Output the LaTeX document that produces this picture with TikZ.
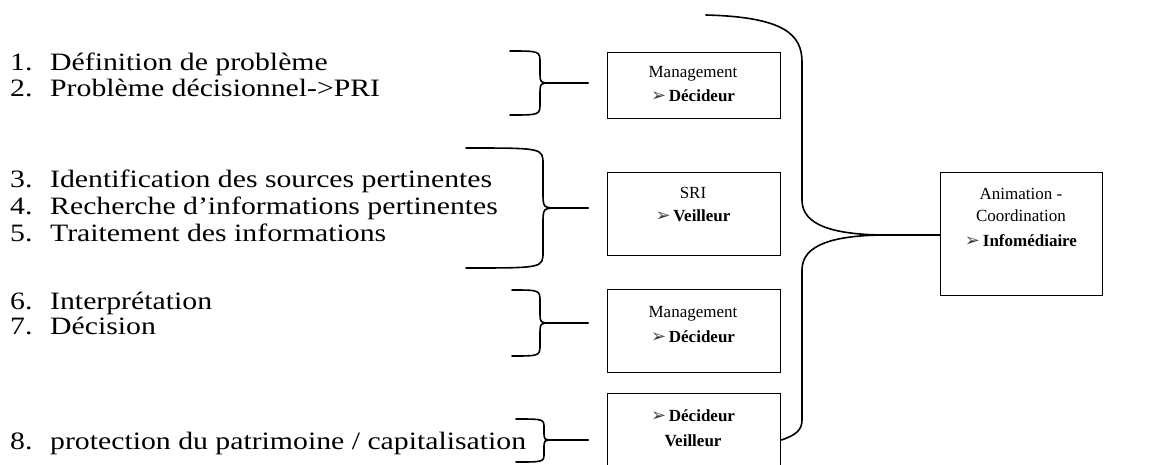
\documentclass[tikz,border=0pt]{standalone}
\usepackage{graphicx}
\usepackage{fontspec}
\setmainfont{Liberation Serif}
\newfontfamily\dejavu{DejaVu Sans}
\newcommand{\arr}{{\dejavu\fontsize{18}{18}\selectfont\color{black!75}➢}\,}
\newcommand{\hs}[1]{\scalebox{1.19}[1]{#1}}
\newcommand{\rbr}[7]{%
  \draw[brc] (#1,#4) .. controls (#2,#4) .. (#2,#4+#7) -- (#2,#5-#7)
    .. controls (#2,#5) .. (#2+#7,#5) -- (#3,#5);
  \draw[brc] (#3,#5) -- (#2+#7,#5) .. controls (#2,#5) .. (#2,#5+#7)
    -- (#2,#6-#7) .. controls (#2,#6) .. (#1,#6);}
\begin{document}
\begin{tikzpicture}[x=1pt,y=-1pt,
  num/.style={anchor=base west,inner sep=0pt,font=\fontsize{25}{25}\selectfont},
  item/.style={anchor=base west,inner sep=0pt,font=\fontsize{25}{25}\selectfont},
  role/.style={draw,line width=1.4pt,anchor=north west,inner sep=0pt},
  rtext/.style={inner sep=0pt,font=\fontsize{17}{17}\selectfont},
  brc/.style={line width=1.6pt,line cap=round,line join=round}]
\clip (0,0) rectangle (1160,464);
\fill[white] (0,0) rectangle (1160,464);

% left list
\node[num]  (n1) at (10,70)  {\hs{1.}};
\node[item] (t1) at (50,70)  {\hs{Définition de problème}};
\node[num]  (n2) at (10,96)  {\hs{2.}};
\node[item] (t2) at (50,96)  {\hs{Problème décisionnel->PRI}};
\node[num]  (n3) at (10,187) {\hs{3.}};
\node[item] (t3) at (50,187) {\hs{Identification des sources pertinentes}};
\node[num]  (n4) at (10,214) {\hs{4.}};
\node[item] (t4) at (50,214) {\hs{Recherche d’informations pertinentes}};
\node[num]  (n5) at (10,241) {\hs{5.}};
\node[item] (t5) at (50,241) {\hs{Traitement des informations}};
\node[num]  (n6) at (10,309) {\hs{6.}};
\node[item] (t6) at (50,309) {\hs{Interprétation}};
\node[num]  (n7) at (10,334) {\hs{7.}};
\node[item] (t7) at (50,334) {\hs{Décision}};
\node[num]  (n8) at (10,449) {\hs{8.}};
\node[item] (t8) at (50,449) {\hs{protection du patrimoine / capitalisation}};

% small braces
\rbr{510}{540}{588}{51}{83}{115}{12}
\rbr{466}{543}{588}{148}{208}{268}{16}
\rbr{512}{540}{588}{290}{323}{356}{12}
\rbr{516}{544}{588}{419}{440}{462}{9}

% boxes
\node[role,minimum width=173,minimum height=66] (b1) at (607,52) {};
\node[role,minimum width=173,minimum height=83] (b2) at (607,172) {};
\node[role,minimum width=173,minimum height=83] (b3) at (607,289) {};
\node[role,minimum width=173,minimum height=90] (b4) at (607,393) {};
\node[role,minimum width=162,minimum height=123] (b5) at (940,172) {};

\node[rtext] (b1a) at (693,74)  {Management};
\node[rtext] (b1b) at (693,96)  {\arr\textbf{Décideur}};
\node[rtext] (b2a) at (693,193) {SRI};
\node[rtext] (b2b) at (693,216) {\arr\textbf{Veilleur}};
\node[rtext] (b3a) at (693,314) {Management};
\node[rtext] (b3b) at (693,337) {\arr\textbf{Décideur}};
\node[rtext] (b4a) at (693,416) {\arr\textbf{Décideur}};
\node[rtext] (b4b) at (693,441) {\textbf{Veilleur}};
\node[rtext] (b5a) at (1021,194) {Animation -};
\node[rtext] (b5b) at (1021,216) {Coordination};
\node[rtext] (b5c) at (1021,241) {\arr\textbf{Infomédiaire}};

% big brace
\coordinate (top) at (706,15);
\coordinate (tip) at (b5.west |- 0,235);
\coordinate (bot) at (b4.north east |- 0,440);
\draw[brc] (top) .. controls (785,17) and (802,35) .. (802,62) -- (802,200)
  .. controls (802,226) and (835,234) .. (880,235) -- (tip);
\draw[brc] (tip) -- (880,235) .. controls (835,236) and (802,244) .. (802,270)
  -- (802,420) .. controls (802,430) and (796,435) .. (bot);
\end{tikzpicture}
\end{document}
